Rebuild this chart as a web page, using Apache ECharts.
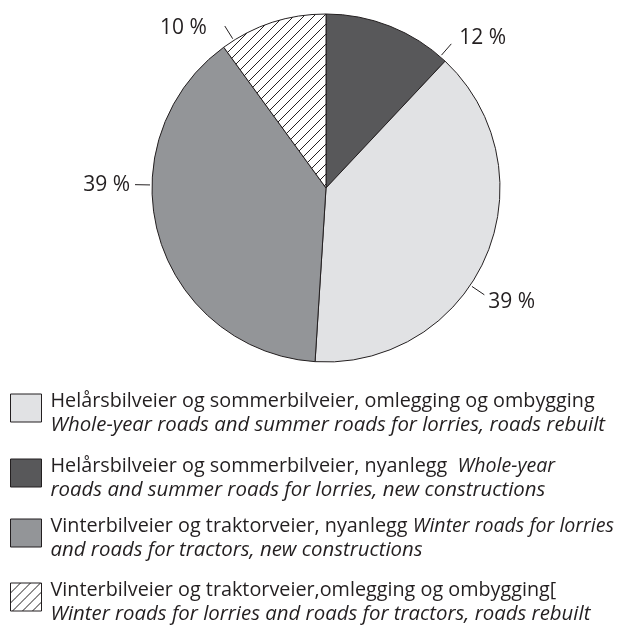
<!DOCTYPE html>
<html>
<head>
<meta charset="utf-8">
<script src="https://cdn.jsdelivr.net/npm/echarts@6/dist/echarts.min.js"></script>
<style>
  html, body { margin: 0; padding: 0; background: #fff; }
  #chart { width: 618px; height: 628px; }
</style>
</head>
<body>
<div id="chart"></div>
<script>
// slices, clockwise from 12 o'clock
const categories = [
  'Helårsbilveier og sommerbilveier, nyanlegg',
  'Helårsbilveier og sommerbilveier, omlegging og ombygging',
  'Vinterbilveier og traktorveier, nyanlegg',
  'Vinterbilveier og traktorveier,omlegging og ombygging['
];
const values = [12, 39, 39, 10];

// legend text: [normal part of line 1, italic part of line 1, italic line 2]
const legendOrder = [1, 0, 2, 3];
const legendLines = [
  ['Helårsbilveier og sommerbilveier, nyanlegg  ', 'Whole-year', 'roads and summer roads for lorries, new constructions'],
  ['Helårsbilveier og sommerbilveier, omlegging og ombygging', '', 'Whole-year roads and summer roads for lorries, roads rebuilt'],
  ['Vinterbilveier og traktorveier, nyanlegg ', 'Winter roads for lorries', 'and roads for tractors, new constructions'],
  ['Vinterbilveier og traktorveier,omlegging og ombygging[', '', 'Winter roads for lorries and roads for tractors, roads rebuilt']
];

// layout / style
const CX = 326, CY = 188, R = 174;
const labelAngles = [41, 124, 271, 328];
const labelGaps = [8, 4, 5, 18];
const labelDy = [-6, 7, 0, 2];
const legendTops = [391, 456, 516, 580];

// diagonal hatch for the last slice
function hatch() {
  const n = 10;
  const c = document.createElement('canvas');
  c.width = n; c.height = n;
  const ctx = c.getContext('2d');
  ctx.fillStyle = '#fff';
  ctx.fillRect(0, 0, n, n);
  ctx.strokeStyle = '#231f20';
  ctx.lineWidth = 1;
  ctx.beginPath();
  ctx.moveTo(-1, n + 1); ctx.lineTo(n + 1, -1);
  ctx.moveTo(-1, 1); ctx.lineTo(1, -1);
  ctx.moveTo(n - 1, n + 1); ctx.lineTo(n + 1, n - 1);
  ctx.stroke();
  return { image: c, repeat: 'repeat' };
}
const colors = ['#58585a', '#e1e2e4', '#939598', hatch()];

const chart = echarts.init(document.getElementById('chart'));

const textFont = '"Open Sans", "Noto Sans", sans-serif';

function legendFor(k) {
  const idx = legendOrder[k];
  return {
    orient: 'vertical',
    left: 10,
    top: legendTops[k],
    padding: 0,
    itemWidth: 31,
    itemHeight: 28,
    icon: 'rect',
    selectedMode: false,
    data: [categories[idx]],
    itemStyle: { borderColor: '#231f20', borderWidth: 1 },
    formatter: function (name) {
      const l = legendLines[categories.indexOf(name)];
      let s = '{r|' + l[0] + '}';
      if (l[1]) s += '{i1|' + l[1] + '}';
      return s + '\n{i|' + l[2] + '}';
    },
    textStyle: {
      padding: [10, 0, 0, 4],
      rich: {
        r: { fontFamily: textFont, fontSize: 19.8, color: '#231f20', lineHeight: 24 },
        i1: { fontFamily: textFont, fontSize: 19.6, fontStyle: 'italic', color: '#231f20', lineHeight: 24 },
        i: { fontFamily: textFont, fontSize: 20.4, fontStyle: 'italic', color: '#231f20', lineHeight: 24 }
      }
    }
  };
}

chart.setOption({
  animation: false,
  legend: legendOrder.map((_, k) => legendFor(k)),
  series: [{
    type: 'pie',
    center: [CX, CY],
    radius: R,
    startAngle: 90,
    clockwise: true,
    data: categories.map((name, i) => ({
      name: name,
      value: values[i],
      itemStyle: { color: colors[i] }
    })),
    itemStyle: { borderColor: '#231f20', borderWidth: 1 },
    emphasis: { disabled: true },
    label: {
      show: true,
      formatter: '{c} %',
      fontFamily: textFont,
      fontSize: 21,
      color: '#231f20'
    },
    labelLine: {
      show: true,
      lineStyle: { color: '#231f20', width: 1 }
    },
    labelLayout: function (params) {
      const i = params.dataIndex;
      const a = labelAngles[i] * Math.PI / 180;
      const s = Math.sin(a), c = Math.cos(a);
      const p1 = [CX + (R + 2) * s, CY - (R + 2) * c];
      const p2 = [CX + (R + 17) * s, CY - (R + 17) * c];
      return {
        x: p2[0] + (s >= 0 ? labelGaps[i] : -labelGaps[i]),
        y: p2[1] + labelDy[i],
        align: s >= 0 ? 'left' : 'right',
        verticalAlign: 'middle',
        labelLinePoints: [p1, p2, p2]
      };
    }
  }]
});
</script>
</body>
</html>
